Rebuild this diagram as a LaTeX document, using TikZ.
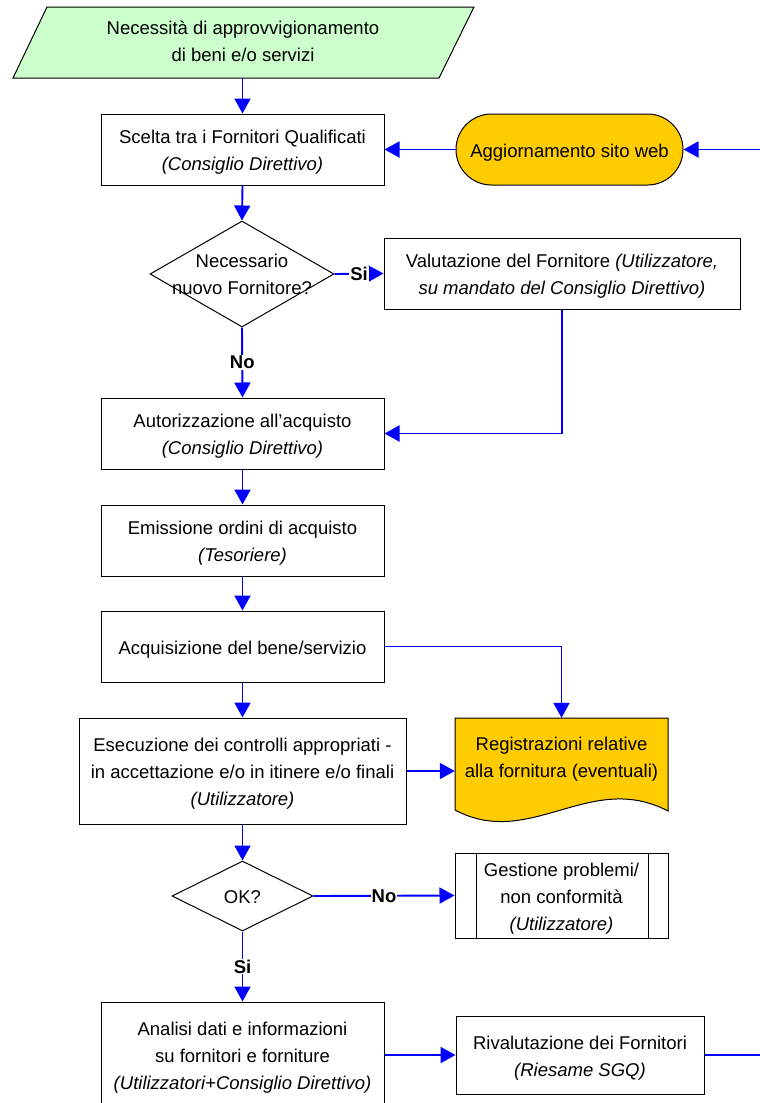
\documentclass[tikz,border=0pt]{standalone}
\usepackage{fontspec}
\setmainfont{Liberation Sans}
\usetikzlibrary{arrows.meta,shapes.geometric}
\definecolor{needgreen}{HTML}{CCFFCC}
\definecolor{gold}{HTML}{FFCC00}
\begin{document}
\begin{tikzpicture}[x=1pt,y=-1pt,
  font=\fontsize{18.5}{27}\selectfont,
  flow/.style={draw=blue, line width=1.9pt, -{Triangle[length=15pt,width=16pt]}},
  plain/.style={draw=blue, line width=1.9pt},
  procbox/.style={draw=black, line width=1pt, fill=white, inner sep=0pt},
  ghost/.style={inner sep=0pt, align=center},
  boxtext/.style={ghost, yshift=-3pt},
  decision/.style={diamond, draw=black, line width=1pt, fill=white, inner sep=0pt},
  lbl/.style={fill=white, inner sep=1pt, font=\fontsize{18.5}{27}\selectfont\bfseries},
]
\clip (0,0) rectangle (760,1103);

% input: supply need
\draw[line width=1pt, fill=needgreen] (47,7) -- (474,7) -- (439,78) -- (13,78) -- cycle;
\node[ghost, minimum width=426pt, minimum height=71pt] (need) at (242.5,42.5) {};
\node[ghost] (needt) at (243,41.5) {Necessità di approvvigionamento\\di beni e/o servizi};

% choice among qualified suppliers
\node[procbox, minimum width=283pt, minimum height=71pt] (choose) at (242.5,149.5) {};
\node[boxtext] (chooset) at (choose) {Scelta tra i Fornitori Qualificati\\\textit{(Consiglio Direttivo)}};
\node[draw=black, line width=1pt, fill=gold, rounded corners=35.5pt,
      minimum width=227pt, minimum height=71pt, inner sep=0pt] (web) at (569.5,149.5) {};
\node[boxtext] (webt) at (web) {Aggiornamento sito web};
\coordinate (webin) at (760,149.5);

% new supplier decision
\node[decision, minimum width=184pt, minimum height=106pt] (newq) at (242,274) {};
\node[ghost] (newqt) at (242,274.5) {Necessario\\nuovo Fornitore?};
\node[procbox, minimum width=356pt, minimum height=71pt] (evalsup) at (562,273.5) {};
\node[boxtext] (evalsupt) at (evalsup)
  {Valutazione del Fornitore \textit{(Utilizzatore,}\\\textit{su mandato del Consiglio Direttivo)}};

% purchase chain
\node[procbox, minimum width=283pt, minimum height=71pt] (auth) at (242.5,433.5) {};
\node[boxtext] (autht) at (auth) {Autorizzazione all’acquisto\\\textit{(Consiglio Direttivo)}};
\node[procbox, minimum width=283pt, minimum height=71pt] (order) at (242.5,540.5) {};
\node[boxtext] (ordert) at (order) {Emissione ordini di acquisto\\\textit{(Tesoriere)}};
\node[procbox, minimum width=283pt, minimum height=71pt] (acq) at (242.5,646.5) {};
\node[boxtext] (acqt) at (acq) {Acquisizione del bene/servizio};
\node[procbox, minimum width=327pt, minimum height=106pt] (check) at (242.5,771) {};
\node[boxtext] (checkt) at (check)
  {Esecuzione dei controlli appropriati -\\in accettazione e/o in itinere e/o finali\\\textit{(Utilizzatore)}};

% document: supply records
\draw[line width=1pt, fill=gold] (455,718) -- (668,718) -- (668,811)
  .. controls (590,770) and (530,850) .. (455,810) -- cycle;
\node[ghost, minimum width=213pt, minimum height=106pt] (rec) at (561.5,771) {};
\node[ghost] (rect) at (561.5,759.5) {Registrazioni relative\\alla fornitura (eventuali)};

% outcome check
\node[decision, minimum width=141pt, minimum height=70pt] (okq) at (242.5,896) {};
\node[ghost] (okqt) at (242.5,897) {OK?};
\node[procbox, minimum width=213pt, minimum height=85pt] (issue) at (561.5,895.5) {};
\node[boxtext] (issuet) at (issue) {Gestione problemi/\\non conformità\\\textit{(Utilizzatore)}};
\draw[line width=1pt] ([xshift=22pt]issue.north west) -- ([xshift=22pt]issue.south west);
\draw[line width=1pt] ([xshift=-20pt]issue.north east) -- ([xshift=-20pt]issue.south east);

% analysis and re-evaluation
\node[procbox, minimum width=283pt, minimum height=106pt] (analysis) at (242.5,1055) {};
\node[boxtext] (analysist) at (analysis)
  {Analisi dati e informazioni\\su fornitori e forniture\\\textit{(Utilizzatori+Consiglio Direttivo)}};
\node[procbox, minimum width=248pt, minimum height=78pt] (reval) at (580,1055) {};
\node[boxtext] (revalt) at (reval) {Rivalutazione dei Fornitori\\\textit{(Riesame SGQ)}};
\coordinate (revalout) at (760,1055);

% connectors
\draw[flow] (need.south) -- (choose.north);
\draw[flow] (webin) -- (web.east);
\draw[flow] (web.west) -- (choose.east);
\draw[flow] (choose.south) -- (newq.north);
\draw[flow] (newq.east) -- node[lbl]{Si} (evalsup.west);
\draw[flow] (newq.south) -- node[lbl]{No} (auth.north);
\draw[flow] (evalsup.south) |- (auth.east);
\draw[flow] (auth.south) -- (order.north);
\draw[flow] (order.south) -- (acq.north);
\draw[flow] (acq.east) -| (rec.north);
\draw[flow] (acq.south) -- (check.north);
\draw[flow] (check.east) -- (rec.west);
\draw[flow] (check.south) -- (okq.north);
\draw[flow] (okq.east) -- node[lbl]{No} (issue.west);
\draw[flow] (okq.south) -- node[lbl]{Si} (analysis.north);
\draw[flow] (analysis.east) -- (reval.west);
\draw[plain] (reval.east) -- (revalout);
\end{tikzpicture}
\end{document}
